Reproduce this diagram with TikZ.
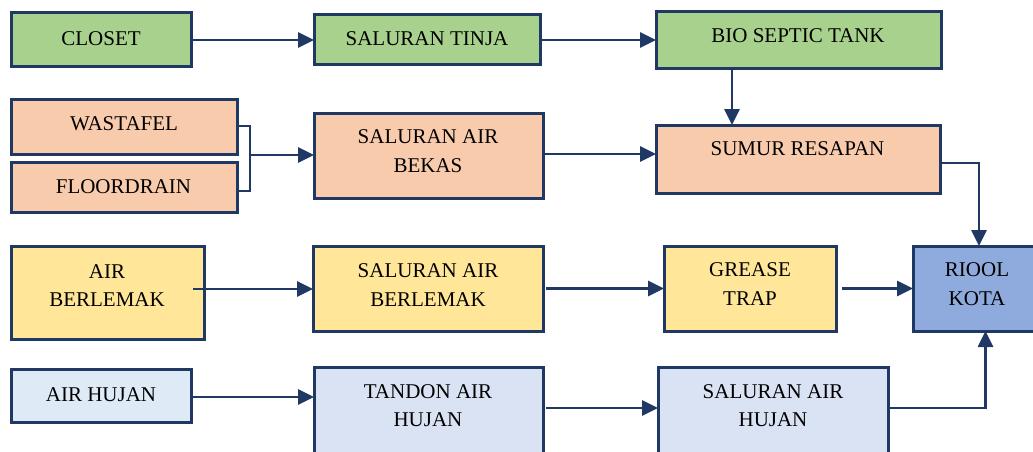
\documentclass[tikz,border=0pt]{standalone}
\usepackage{fontspec}
\setmainfont{Liberation Serif}
\usetikzlibrary{arrows.meta,calc}
\definecolor{navy}{HTML}{1F3864}
\definecolor{cgreen}{HTML}{A9D18E}
\definecolor{cpeach}{HTML}{F8CBAD}
\definecolor{cyellow}{HTML}{FFE699}
\definecolor{crain}{HTML}{DEEBF7}
\definecolor{ctank}{HTML}{DAE3F3}
\definecolor{criool}{HTML}{8FAADC}
\tikzset{
  box/.style={draw=navy, line width=3pt, inner sep=0pt, outer sep=0pt},
  lbl/.style={font=\fontsize{21}{28.5}\selectfont, align=center, inner sep=0pt, text=black},
  flow/.style={draw=navy, line width=2.7pt},
  arr/.style={flow, -{Triangle[length=16pt,width=15pt]}},
}
% \bx{name}{x1}{y1}{x2}{y2}{fill}
\newcommand{\bx}[6]{%
  \node[box, fill=#6, minimum width=#4pt-#2pt, minimum height=#5pt-#3pt]
    (#1) at ({(#2+#4)/2},{(#3+#5)/2}) {};}
\begin{document}
\begin{tikzpicture}[x=1pt,y=-1pt]
\clip (0,0) rectangle (1033,452);
\useasboundingbox (0,0) rectangle (1033,452);

% boxes
\bx{closet}{11}{13}{191}{67}{cgreen}
\bx{tinja}{314}{15}{540}{65}{cgreen}
\bx{bio}{656}{12}{941}{69}{cgreen}
\bx{wastafel}{11}{99}{237}{154}{cpeach}
\bx{floordrain}{11}{162}{237}{212}{cpeach}
\bx{bekas}{314}{113}{543}{198}{cpeach}
\bx{sumur}{656}{125}{940}{193}{cpeach}
\bx{berlemak}{11}{246}{204}{339}{cyellow}
\bx{salberlemak}{313}{246}{543}{331}{cyellow}
\bx{grease}{664}{246}{836}{331}{cyellow}
\bx{riool}{913}{246}{1045}{331}{criool}
\bx{hujan}{11}{369}{191}{422}{crain}
\bx{tandon}{314}{367}{543}{470}{ctank}
\bx{salhujan}{658}{367}{888}{470}{ctank}

% labels
\node[lbl] (closet-t) at (101,38.5) {CLOSET};
\node[lbl] (tinja-t) at (427,39) {SALURAN TINJA};
\node[lbl] (bio-t) at (798,36) {BIO SEPTIC TANK};
\node[lbl] (wastafel-t) at (124,123.5) {WASTAFEL};
\node[lbl] (floordrain-t) at (123.5,187) {FLOORDRAIN};
\node[lbl] (bekas-t) at (428,151) {SALURAN AIR\\BEKAS};
\node[lbl] (sumur-t) at (797.5,149) {SUMUR RESAPAN};
\node[lbl] (berlemak-t) at (107,285.5) {AIR\\BERLEMAK};
\node[lbl] (salberlemak-t) at (428,285) {SALURAN AIR\\BERLEMAK};
\node[lbl] (grease-t) at (750,284) {GREASE\\TRAP};
\node[lbl] (riool-t) at (977,284) {RIOOL\\KOTA};
\node[lbl] (hujan-t) at (101,394.5) {AIR HUJAN};
\node[lbl] (tandon-t) at (428,405.5) {TANDON AIR\\HUJAN};
\node[lbl] (salhujan-t) at (773,405.5) {SALURAN AIR\\HUJAN};

% connector start points
\coordinate (jn) at (250,155);
\coordinate (bioOut) at ([xshift=-66.5pt]bio.south);
\coordinate (bekasOut) at ([yshift=1.5pt]bekas.east);
\coordinate (sumurOut) at ([yshift=-4pt]sumur.east);
\coordinate (berlemakOut) at ([shift={(-11pt,3.5pt)}]berlemak.east);
\coordinate (salberlemakOut) at ([xshift=3pt]salberlemak.east);
\coordinate (greaseOut) at ([xshift=6pt]grease.east);
\coordinate (hujanOut) at ([shift={(2pt,-1.5pt)}]hujan.east);
\coordinate (tandonOut) at ([shift={(3pt,10.5pt)}]tandon.east);
\coordinate (salhujanOut) at ([yshift=10.5pt]salhujan.east);

% black water line
\draw[arr] (closet.east) -- (tinja.west);
\draw[arr] (tinja.east) -- (tinja.east -| bio.west);
\draw[arr] (bioOut) -- (bioOut |- sumur.north);

% grey water line
\draw[flow] ([yshift=0.5pt]wastafel.east) -| (jn) |- ([yshift=-4pt]floordrain.east);
\draw[arr] (jn) -- (jn -| bekas.west);
\draw[arr] (bekasOut) -- (bekasOut -| sumur.west);
\draw[arr] (sumurOut) -| (riool.north);

% greasy water line
\draw[arr] (berlemakOut) -- (berlemakOut -| salberlemak.west);
\draw[arr] (salberlemakOut) -- (salberlemakOut -| grease.west);
\draw[arr] (greaseOut) -- (greaseOut -| riool.west);

% rain water line
\draw[arr] (hujanOut) -- (hujanOut -| tandon.west);
\draw[arr] (tandonOut) -- (tandonOut -| salhujan.west);
\draw[arr] (salhujanOut) -| ([xshift=6.5pt]riool.south);
\end{tikzpicture}
\end{document}
